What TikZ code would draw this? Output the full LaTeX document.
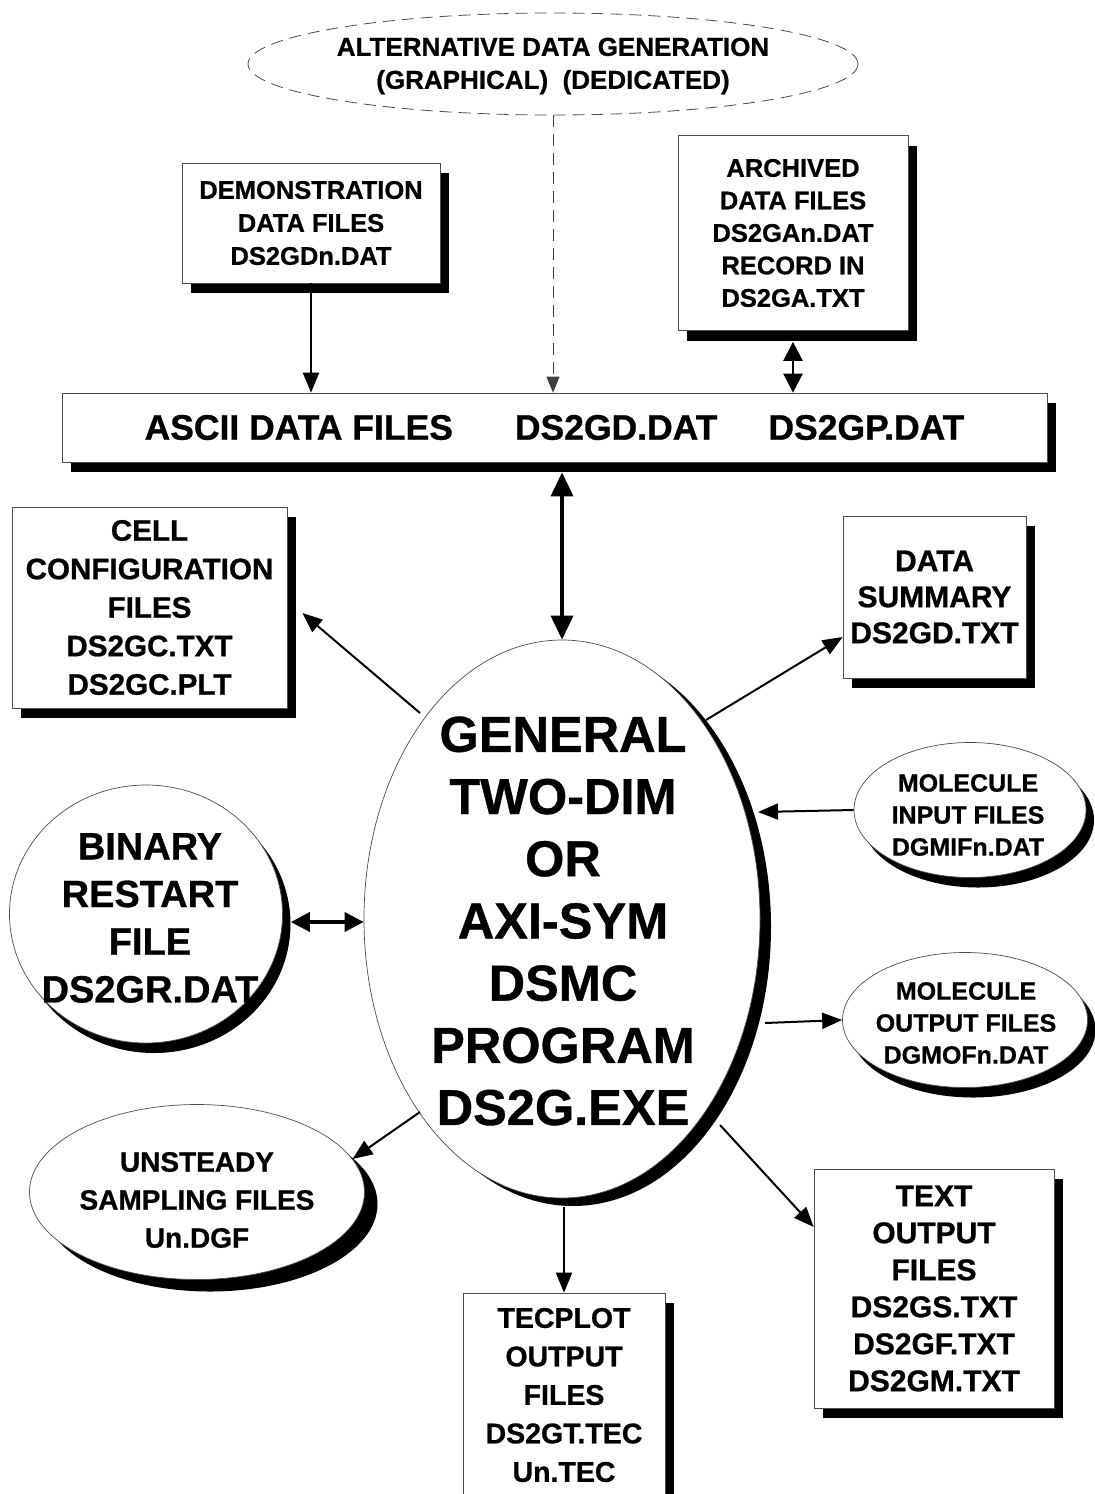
\documentclass[tikz,border=0pt]{standalone}
\usepackage{fontspec}
\setmainfont{Liberation Sans}[BoldFeatures={FakeBold=0.8}]
\usetikzlibrary{shapes.geometric,arrows.meta,shadows,calc}
\begin{document}
\begin{tikzpicture}[x=1pt,y=-1pt,
  fs/.style 2 args={font=\fontsize{#1}{#2}\selectfont\bfseries},
  rbox/.style={rectangle, draw=black!70, line width=0.7pt, fill=white, inner sep=0pt, align=center,
    drop shadow={shadow xshift=9pt, shadow yshift=-10pt, opacity=1, fill=black}},
  ebox/.style={ellipse, draw=black!70, line width=0.7pt, fill=white, inner sep=0pt},
  eshadow/.style 2 args={drop shadow={shadow xshift=#1pt, shadow yshift=-#2pt, opacity=1, fill=black}},
  lbl/.style={align=center, inner sep=0pt},
  conn/.style={line width=2pt, -{Triangle[length=20pt,width=16pt]}},
  dconn/.style={line width=#1, {Triangle[length=19pt,width=19pt]}-{Triangle[length=19pt,width=19pt]}}
]
\useasboundingbox (0,0) rectangle (1095,1494);

% top dashed ellipse
\node[ebox, draw=black!70, line width=0.8pt, dash pattern=on 12pt off 7pt, minimum width=610pt, minimum height=102pt] (alt) at (553,64) {};
\node[lbl, fs={26}{33}] (altt) at (553,66) {ALTERNATIVE DATA GENERATION\\(GRAPHICAL)\ \ (DEDICATED)};

% boxes
\node[rbox, fs={25.5}{33}, minimum width=258pt, minimum height=120pt] (demo) at (311,223) {DEMONSTRATION\\DATA FILES\\DS2GDn.DAT};
\node[rbox, fs={25.5}{32.5}, minimum width=230pt, minimum height=195pt] (arch) at (793,233) {ARCHIVED\\DATA FILES\\DS2GAn.DAT\\RECORD IN\\DS2GA.TXT};
\node[rbox, fs={35.5}{40}, minimum width=985pt, minimum height=69pt] (ascii) at (554.5,427.5) {ASCII DATA FILES\hspace{62pt}DS2GD.DAT\hspace{51pt}DS2GP.DAT};
\node[rbox, fs={29.6}{38.5}, minimum width=275pt, minimum height=201pt] (cell) at (149.5,607.5) {CELL\\CONFIGURATION\\FILES\\DS2GC.TXT\\DS2GC.PLT};
\node[rbox, fs={30}{36}, minimum width=183pt, minimum height=162pt] (summ) at (934.5,597) {DATA\\SUMMARY\\DS2GD.TXT};
\node[rbox, fs={28.5}{38.5}, minimum width=202pt, minimum height=204pt] (tec) at (564,1395) {TECPLOT\\OUTPUT\\FILES\\DS2GT.TEC\\Un.TEC};
\node[rbox, fs={30}{37}, minimum width=240pt, minimum height=239pt] (txt) at (934,1288.5) {TEXT\\OUTPUT\\FILES\\DS2GS.TXT\\DS2GF.TXT\\DS2GM.TXT};

% ellipses
\node[ebox, eshadow={11}{8}, minimum width=396pt, minimum height=558pt] (cen) at (562,919) {};
\node[lbl, fs={50.5}{62.2}] (cent) at (563,921) {GENERAL\\TWO-DIM\\OR\\AXI-SYM\\DSMC\\PROGRAM\\DS2G.EXE};
\node[ebox, eshadow={8}{10}, minimum width=273pt, minimum height=258pt] (bin) at (146,914) {};
\node[lbl, fs={38}{47.7}] (bint) at (150,918) {BINARY\\RESTART\\FILE\\DS2GR.DAT};
\node[ebox, eshadow={8}{10}, minimum width=232pt, minimum height=135pt] (molin) at (970,810) {};
\node[lbl, fs={25}{32}] (molint) at (968,815) {MOLECULE\\INPUT FILES\\DGMIFn.DAT};
\node[ebox, eshadow={8}{10}, minimum width=245pt, minimum height=135pt] (molout) at (965,1020) {};
\node[lbl, fs={25}{32}] (moloutt) at (966,1023) {MOLECULE\\OUTPUT FILES\\DGMOFn.DAT};
\node[ebox, eshadow={13}{12}, minimum width=335pt, minimum height=175pt] (unst) at (197,1192) {};
\node[lbl, fs={28}{38}] (unstt) at (197,1200) {UNSTEADY\\SAMPLING FILES\\Un.DGF};

% connectors
\draw[conn] (demo.south) -- (demo.south |- ascii.north);
\draw[draw=black!75, line width=0.9pt, dash pattern=on 12pt off 7pt, -{Triangle[length=16pt,width=13pt]}] (alt.south) -- (alt.south |- ascii.north);
\draw[dconn=2.5pt] ([yshift=-11pt]arch.south) -- (arch.south |- ascii.north);
\draw[line width=3.5pt, {Triangle[length=24pt,width=22pt]}-{Triangle[length=24pt,width=22pt]}] ($(cen.north |- ascii.south)+(0,10)$) -- (cen.north);
\draw[conn] ($(cen)+(-142,-206)$) -- ($(cell.east)+(15,5.5)$);
\draw[conn] ($(cen)+(144,-199)$) -- ($(summ.west)+(0,40)$);
\draw[conn] (molin.west) -- ($(cen)+(196,-107)$);
\draw[conn] ($(cen)+(203,104)$) -- (molout.west);
\draw[conn] ($(cen)+(-142,193)$) -- (unst.12);
\draw[conn] ($(tec.north |- cen.south)+(0,9)$) -- (tec.north);
\draw[conn] ($(cen)+(158,206)$) -- ($(txt.west)+(0,-61.5)$);
\draw[dconn=3.5pt] ($(bin.east)+(8,8)$) -- ($(cen.west)+(0,3)$);
\end{tikzpicture}
\end{document}
